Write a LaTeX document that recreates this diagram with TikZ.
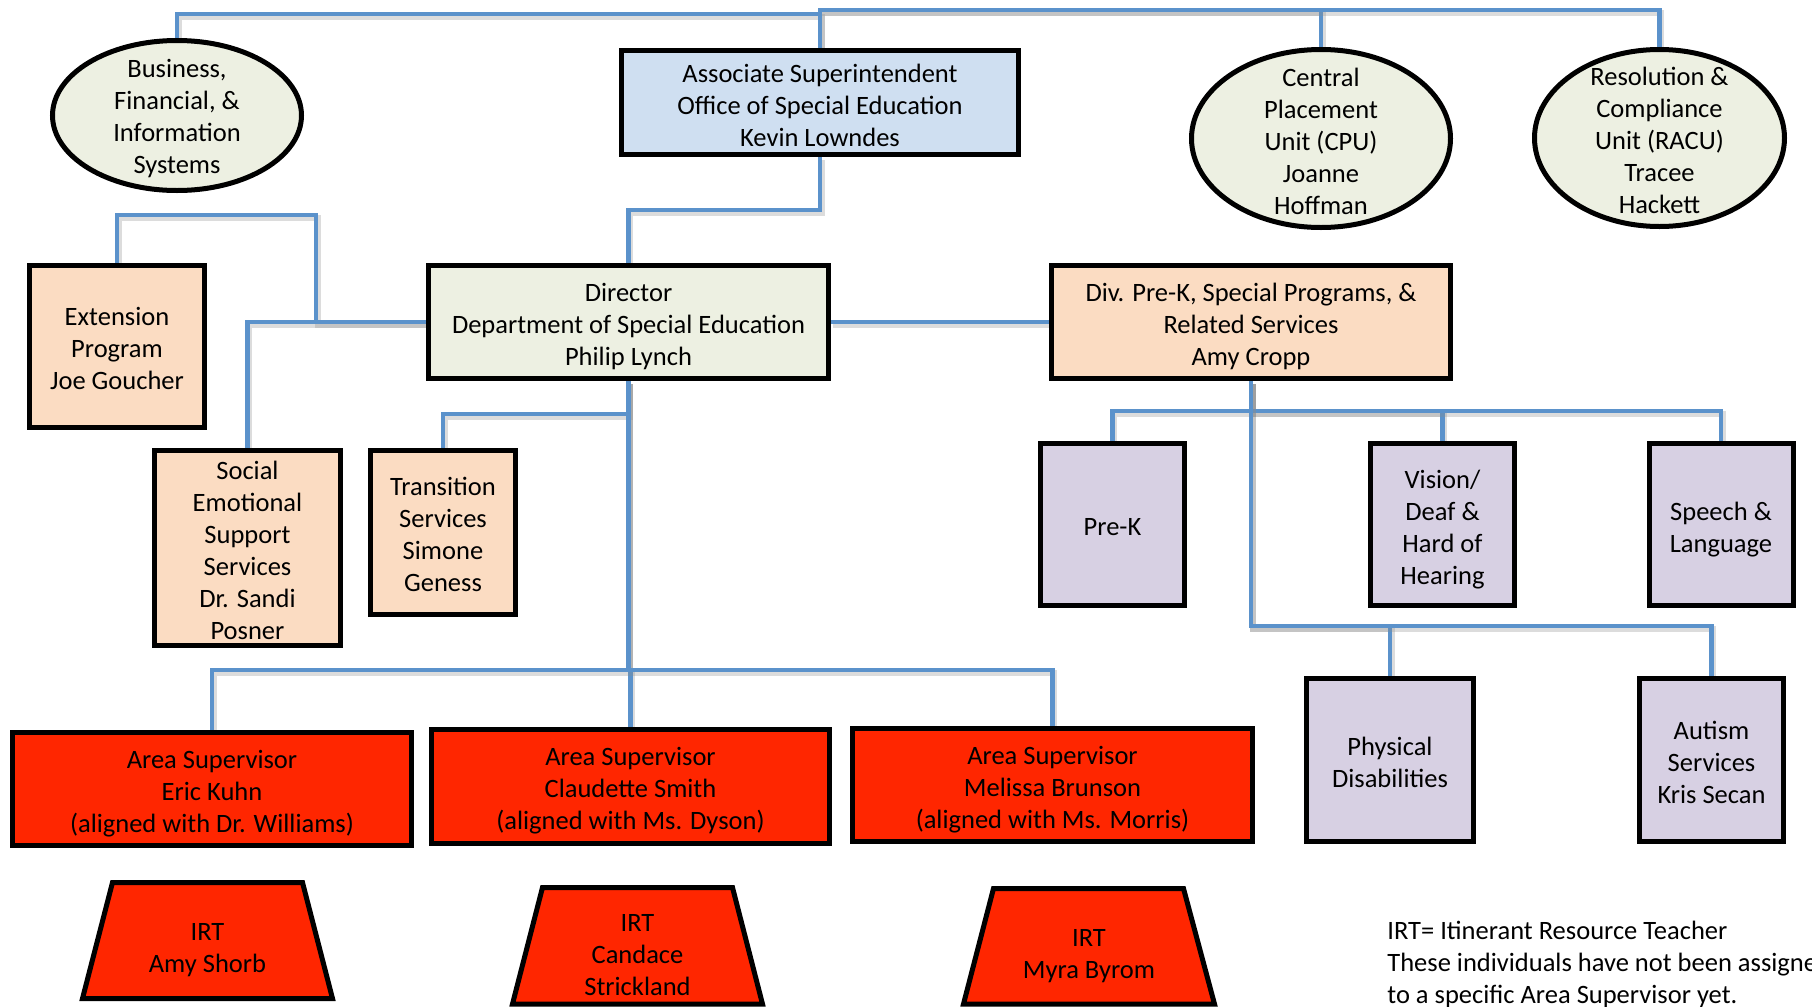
\documentclass[tikz,border=0pt]{standalone}
\usepackage{fontspec}
\setmainfont{Carlito}
\usetikzlibrary{shapes.geometric,backgrounds}
\definecolor{lineblue}{RGB}{91,146,203}
\definecolor{assocblue}{RGB}{207,223,241}
\definecolor{palegreen}{RGB}{237,240,226}
\definecolor{peach}{RGB}{251,220,194}
\definecolor{lilac}{RGB}{215,208,227}
\definecolor{brightred}{RGB}{255,38,0}
\newcommand{\chartfont}{\fontsize{13.25pt}{16pt}\selectfont}
\begin{document}
\begin{tikzpicture}[x=0.5pt,y=-0.5pt,
  box/.style={draw=black, line width=2.5pt, inner sep=0pt},
  oval/.style={ellipse, draw=black, line width=2.5pt, fill=palegreen, inner sep=0pt},
  txt/.style={align=center, inner sep=0pt, font=\chartfont},
  boxtxt/.style={txt, yshift=-2.3pt, execute at end node={\vphantom{gjpqy}}},
  ovaltxt/.style={txt, yshift=-1.3pt},
  conn/.style={draw=lineblue, line width=2.3pt,
    preaction={draw=black!45, opacity=0.3, line width=2.6pt, transform canvas={shift={(1pt,-1.5pt)}}}},
  irtshape/.style={draw=black, line width=2.5pt, fill=brightred, line join=miter}
]
\useasboundingbox (0,0) rectangle (1812,1007);

% top level
\node[box, fill=assocblue, minimum width=198.5pt, minimum height=52pt] (assoc) at (820,102.5) {};
\node[boxtxt] (assocT) at (assoc) {Associate Superintendent\\Office of Special Education\\Kevin Lowndes};
\node[oval, minimum width=124.5pt, minimum height=75pt] (bus) at (177,115.5) {};
\node[ovaltxt] (busT) at (bus) {Business,\\Financial, \&\\Information\\Systems};
\node[oval, minimum width=129.5pt, minimum height=89pt] (central) at (1321,138.5) {};
\node[ovaltxt] (centralT) at (central) {Central\\Placement\\Unit (CPU)\\Joanne\\Hoffman};
\node[oval, minimum width=125pt, minimum height=88.5pt] (resol) at (1659.5,138) {};
\node[ovaltxt] (resolT) at (resol) {Resolution \&\\Compliance\\Unit (RACU)\\Tracee\\Hackett};

% second level
\node[box, fill=palegreen, minimum width=200pt, minimum height=56.5pt] (director) at (628.5,322) {};
\node[boxtxt] (directorT) at (director) {Director\\Department of Special Education\\Philip Lynch};
\node[box, fill=peach, minimum width=199.5pt, minimum height=56.5pt] (divpk) at (1251,322) {};
\node[boxtxt] (divpkT) at (divpk) {Div. Pre-K, Special Programs, \&\\Related Services\\Amy Cropp};
\node[box, fill=peach, minimum width=87.5pt, minimum height=81pt] (ext) at (117,346.5) {};
\node[boxtxt] (extT) at (ext) {Extension\\Program\\Joe Goucher};
\node[box, fill=peach, minimum width=93pt, minimum height=97.5pt] (social) at (247.5,548) {};
\node[boxtxt] (socialT) at (social) {Social\\Emotional\\Support\\Services\\Dr. Sandi\\Posner};
\node[box, fill=peach, minimum width=72.5pt, minimum height=82pt] (trans) at (443,532.5) {};
\node[boxtxt] (transT) at (trans) {Transition\\Services\\Simone\\Geness};

% purple boxes
\node[box, fill=lilac, minimum width=72pt, minimum height=81pt] (prek) at (1112.5,524.5) {};
\node[boxtxt] (prekT) at (prek) {Pre-K};
\node[box, fill=lilac, minimum width=72pt, minimum height=81pt] (vision) at (1442.5,524.5) {};
\node[boxtxt] (visionT) at (vision) {Vision/\\Deaf \&\\Hard of\\Hearing};
\node[box, fill=lilac, minimum width=72pt, minimum height=81pt] (speech) at (1721,524.5) {};
\node[boxtxt] (speechT) at (speech) {Speech \&\\Language};
\node[box, fill=lilac, minimum width=83.5pt, minimum height=81.5pt] (phys) at (1390,760) {};
\node[boxtxt] (physT) at (phys) {Physical\\Disabilities};
\node[box, fill=lilac, minimum width=72pt, minimum height=81.5pt] (autism) at (1711.5,760) {};
\node[boxtxt] (autismT) at (autism) {Autism\\Services\\Kris Secan};

% area supervisors
\node[box, fill=brightred, minimum width=199.5pt, minimum height=56.5pt] (area1) at (212,789) {};
\node[boxtxt] (area1T) at (area1) {Area Supervisor\\Eric Kuhn\\(aligned with Dr. Williams)};
\node[box, fill=brightred, minimum width=199pt, minimum height=57pt] (area2) at (630.5,786.5) {};
\node[boxtxt] (area2T) at (area2) {Area Supervisor\\Claudette Smith\\(aligned with Ms. Dyson)};
\node[box, fill=brightred, minimum width=200pt, minimum height=56.5pt] (area3) at (1052.5,785) {};
\node[boxtxt] (area3T) at (area3) {Area Supervisor\\Melissa Brunson\\(aligned with Ms. Morris)};

% IRT trapezoids
\draw[irtshape] (112.5,882.5) -- (302.5,882.5) -- (332.5,998.5) -- (82.5,998.5) -- cycle;
\node[txt] (irt1) at (207.5,950.5) {IRT\\Amy Shorb};
\draw[irtshape] (542.5,887.5) -- (732.5,887.5) -- (762.5,1004) -- (512.5,1004) -- cycle;
\node[txt] (irt2) at (637.5,955.5) {IRT\\Candace\\Strickland};
\draw[irtshape] (993.5,888.5) -- (1183.5,888.5) -- (1214.5,1004) -- (963.5,1004) -- cycle;
\node[txt] (irt3) at (1089,956.5) {IRT\\Myra Byrom};

% footnote
\node[txt, anchor=west, align=left] (note) at (1387,964)
  {IRT= Itinerant Resource Teacher\\These individuals have not been assigned\\to a specific Area Supervisor yet.};

% connectors
\begin{pgfonlayer}{background}
\draw[conn] (assoc.north) |- (bus.north |- 0,14) -- (bus.north);
\draw[conn] (assoc.north |- 0,10) -| (central.north);
\draw[conn] (assoc.north) -- (assoc.north |- 0,10) -| (resol.north);
\draw[conn] (assoc.south) -- (assoc.south |- 0,210) -| (director.north);
\draw[conn] (ext.north) |- (316,215) |- (director.west);
\draw[conn] (director.west) -| (social.north);
\draw[conn] (director.south) |- (trans.north |- 0,414) -- (trans.north);
\draw[conn] (director.south) |- (area1.north |- 0,670) -- (area1.north);
\draw[conn] (director.south) |- (area2.north |- 0,670) -- (area2.north);
\draw[conn] (director.south) |- (area3.north |- 0,670) -- (area3.north);
\draw[conn] (director.east) -- (divpk.west);
\draw[conn] (divpk.south) |- (prek.north |- 0,411) -- (prek.north);
\draw[conn] (divpk.south) |- (vision.north |- 0,411) -- (vision.north);
\draw[conn] (divpk.south) |- (speech.north |- 0,411) -- (speech.north);
\draw[conn] (divpk.south) |- (phys.north |- 0,626) -- (phys.north);
\draw[conn] (divpk.south) |- (autism.north |- 0,626) -- (autism.north);
\end{pgfonlayer}
\end{tikzpicture}
\end{document}
